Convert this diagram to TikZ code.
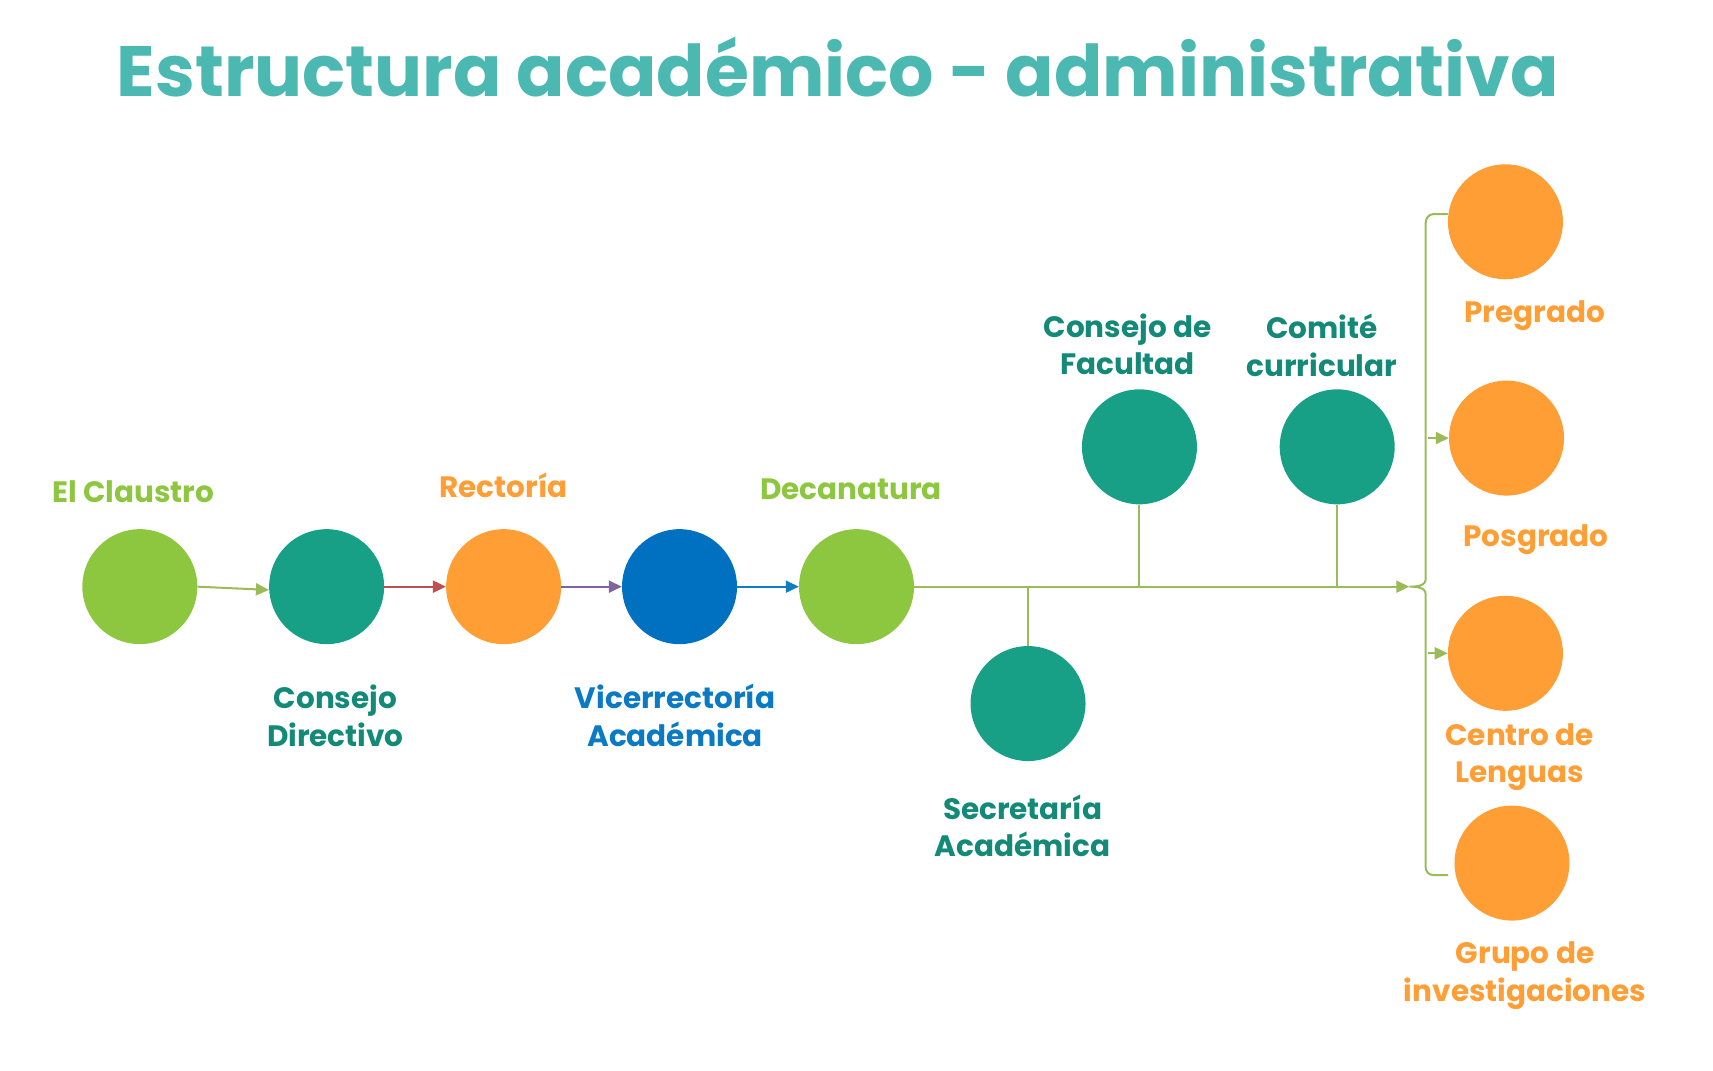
\documentclass[tikz,border=0pt]{standalone}
\usepackage{fontspec}
\setmainfont{Poppins}
\usetikzlibrary{arrows.meta,calc}
\definecolor{cgreen}{HTML}{8DC63F}
\definecolor{cteal}{HTML}{18A086}
\definecolor{corange}{HTML}{FF9E35}
\definecolor{cblue}{HTML}{0070C0}
\definecolor{ctitle}{HTML}{4BB8B2}
\definecolor{lteal}{HTML}{138A77}
\definecolor{lblue}{HTML}{0A7AC4}
\definecolor{lgreen}{HTML}{9BBB59}
\definecolor{lred}{HTML}{C0504D}
\definecolor{lpurple}{HTML}{8064A2}
\definecolor{lbluearr}{HTML}{0F7CC4}
\tikzset{
  dot/.style={circle, fill=#1, draw=none, minimum size=115pt, inner sep=0pt},
  lbl/.style={text=#1, font=\fontsize{29.5}{37.5}\selectfont\bfseries, align=center, inner sep=0pt},
  conn/.style={draw=#1, line width=2pt, -{Triangle[length=13pt,width=12pt]}},
  plain/.style={draw=#1, line width=2pt},
}
\begin{document}
\begin{tikzpicture}[x=1.0925pt,y=-1.0925pt]
\useasboundingbox (0,0) rectangle (1568,980);
\node[text=ctitle, font=\fontsize{71.3}{80}\selectfont\bfseries, inner sep=0pt] (title) at (767,61) {Estructura académico - administrativa};
% circles
\node[dot=cgreen] (claustro) at (128,537) {};
\node[dot=cteal] (consejo) at (299,537) {};
\node[dot=corange] (rectoria) at (461,537) {};
\node[dot=cblue] (vice) at (622,537) {};
\node[dot=cgreen] (decan) at (784,537) {};
\node[dot=cteal] (secre) at (941,644) {};
\node[dot=cteal] (facultad) at (1043,409) {};
\node[dot=cteal] (comite) at (1224,409) {};
\node[dot=corange] (pregrado) at (1378,203) {};
\node[dot=corange] (posgrado) at (1379,401) {};
\node[dot=corange] (centro) at (1378,598) {};
\node[dot=corange] (grupo) at (1384,790) {};
% labels
\node[lbl=cgreen] (tclaustro) at (122,450) {El Claustro};
\node[lbl=lteal] (tconsejo) at (307,655) {Consejo\\Directivo};
\node[lbl=corange] (trectoria) at (461,444) {Rectoría};
\node[lbl=lblue] (tvice) at (618,655) {Vicerrectoría\\Académica};
\node[lbl=cgreen] (tdecan) at (779,448) {Decanatura};
\node[lbl=lteal] (tfacultad) at (1032,315) {Consejo de\\Facultad};
\node[lbl=lteal] (tcomite) at (1210,316) {Comité\\curricular};
\node[lbl=lteal] (tsecre) at (936,756) {Secretaría\\Académica};
\node[lbl=corange] (tpregrado) at (1405,289) {Pregrado};
\node[lbl=corange] (tposgrado) at (1406,494) {Posgrado};
\node[lbl=corange] (tcentro) at (1391,693) {Centro de\\Lenguas};
\node[lbl=corange] (tgrupo) at (1396,893) {Grupo de\\investigaciones};
% connectors
\draw[conn=lgreen] (claustro.east) -- ($(consejo.west)+(0,3)$);
\draw[conn=lred] (consejo) -- (rectoria);
\draw[conn=lpurple] (rectoria) -- (vice);
\draw[conn=lbluearr] (vice) -- (decan);
\coordinate (bmid) at (1290,537);
\draw[conn=lgreen] (decan.east) -- (bmid);
\coordinate (jsec) at (941,537);
\coordinate (jfac) at (1043,537);
\coordinate (jcom) at (1224,537);
\draw[plain=lgreen] (secre.north) -- (jsec);
\draw[plain=lgreen] (facultad.south) -- (jfac);
\draw[plain=lgreen] (comite.south) -- (jcom);
% brace
\coordinate (btop) at (1325,196);
\coordinate (bbot) at (1325,801);
\draw[plain=lgreen, line cap=round] (btop) -- (1312,196) to[out=180,in=90] (1305,204) -- (1305,530) to[out=-90,in=0] (bmid) to[out=0,in=90] (1305,544) -- (1305,794) to[out=-90,in=180] (1312,801) -- (bbot);
\coordinate (bpos) at (1307,401);
\coordinate (bcen) at (1307,598);
\draw[conn=lgreen] (bpos) -- (posgrado.west);
\draw[conn=lgreen] (bcen) -- (centro.west);
\end{tikzpicture}
\end{document}
